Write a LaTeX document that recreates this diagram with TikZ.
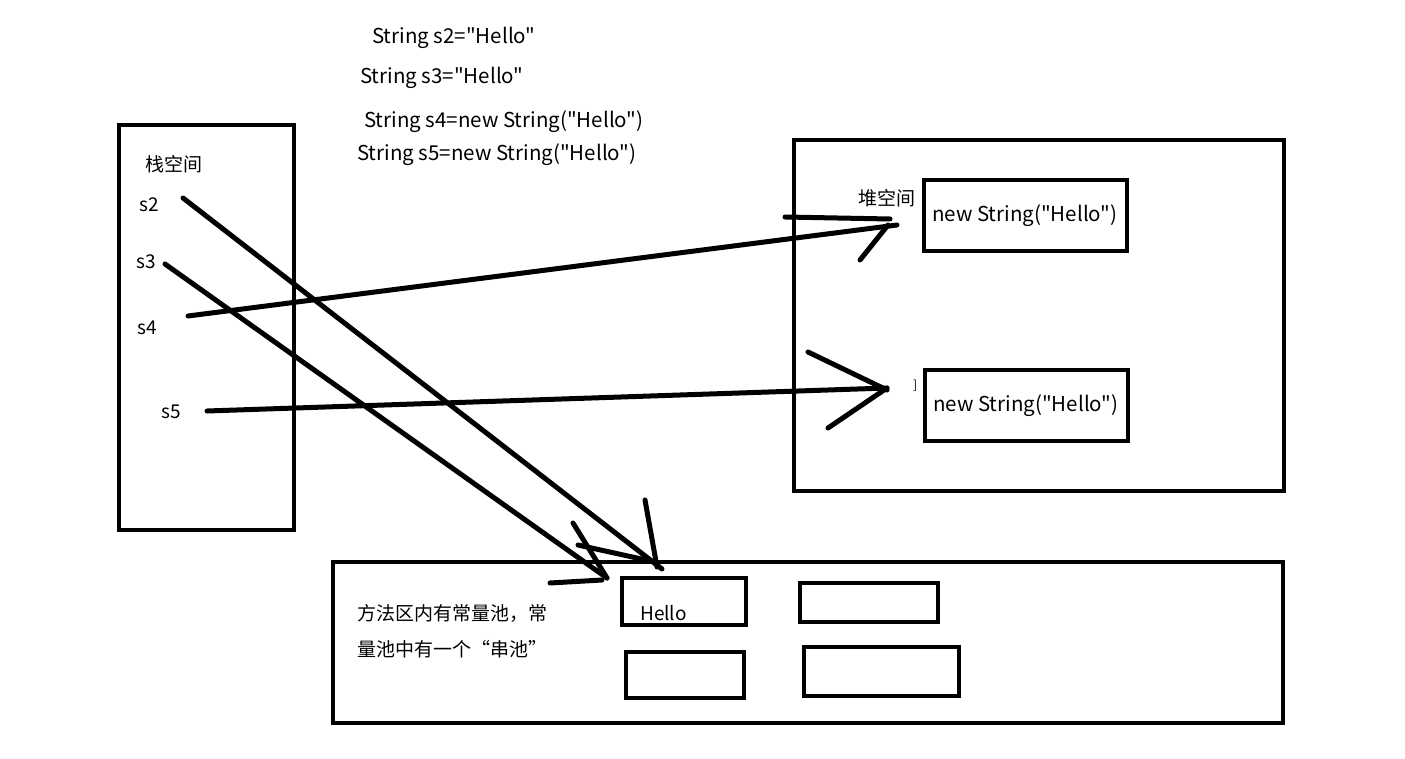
\documentclass[tikz,border=0pt]{standalone}
\usepackage{fontspec}
\newfontfamily\hei{Noto Sans CJK SC}
\usetikzlibrary{positioning}

\begin{document}
\begin{tikzpicture}[x=1pt, y=-1pt,
						box/.style={draw, line width=4pt, inner sep=0pt},
						txt/.style={anchor=west, inner sep=0pt, font=\hei\fontsize{19}{22}\selectfont},
						code/.style={txt, font=\hei\fontsize{20.5}{24}\selectfont},
						pen/.style={line width=5pt, line cap=round}]
		\useasboundingbox (0,0) rectangle (1405,759);

		% code lines
		\node (c2) [code] at (372,38) {String s2="Hello"};
		\node (c3) [code] at (360,78) {String s3="Hello"};
		\node (c4) [code] at (364,122) {String s4=new String("Hello")};
		\node (c5) [code] at (357,155) {String s5=new String("Hello")};

		% stack
		\node (stack) [box, minimum width=175pt, minimum height=405pt] at (206.5,327.5) {};
		\node (stacklbl) [txt] at (145,164) {栈空间};
		\node (s2) [txt] at (139,205) {s2};
		\node (s3) [txt] at (136,262) {s3};
		\node (s4) [txt] at (137,328) {s4};
		\node (s5) [txt] at (161,412) {s5};

		% heap
		\node (heap) [box, minimum width=490pt, minimum height=351pt] at (1039,315.5) {};
		\node (heaplbl) [txt] at (858,198) {堆空间};
		\node (obj1) [box, minimum width=203pt, minimum height=71pt] at (1025.5,215.5) {};
		\node (obj1txt) [code] at (932,216) {new String("Hello")};
		\node (obj2) [box, minimum width=203pt, minimum height=71pt] at (1026.5,405.5) {};
		\node (obj2txt) [code] at (933,406) {new String("Hello")};
		\node (mark) [txt, font=\hei\fontsize{12}{12}\selectfont] at (913,386) {]};

		% method area
		\node (method) [box, minimum width=950pt, minimum height=161pt] at (808,642.5) {};
		\node (methodlbl) [txt, align=left, font=\hei\fontsize{19}{36}\selectfont] at (357,631) {方法区内有常量池，常\\量池中有一个“串池”};
		\node (pool1) [box, minimum width=124pt, minimum height=47pt] at (684,601.5) {};
		\node (hello) [txt] at (640,613) {Hello};
		\node (pool2) [box, minimum width=138pt, minimum height=39pt] at (869,602.5) {};
		\node (pool3) [box, minimum width=118pt, minimum height=46pt] at (685,675) {};
		\node (pool4) [box, minimum width=155pt, minimum height=49pt] at (881.5,671.5) {};

		% references
		\coordinate (p2a) at (183,198);  \coordinate (p2b) at (662,569);
		\coordinate (p3a) at (165,264);  \coordinate (p3b) at (607,578);
		\coordinate (p4a) at (188,316);  \coordinate (p4b) at (897,225);
		\coordinate (p5a) at (207,411);  \coordinate (p5b) at (887,388);

		\draw[pen] (p2a) -- (p2b);
		\draw[pen] (645,500) -- (657,567);
		\draw[pen] (578,545) -- (655,562);

		\draw[pen] (p3a) -- (p3b);
		\draw[pen] (573,523) -- (p3b);
		\draw[pen] (550,583) -- (602,580);

		\draw[pen] (p4a) -- (p4b);
		\draw[pen] (785,217) -- (890,219);
		\draw[pen] (860,260) -- (888,225);

		\draw[pen] (p5a) -- (p5b);
		\draw[pen] (808,352) -- (887,390);
		\draw[pen] (828,428) -- (p5b);
	\end{tikzpicture}
\end{document}
